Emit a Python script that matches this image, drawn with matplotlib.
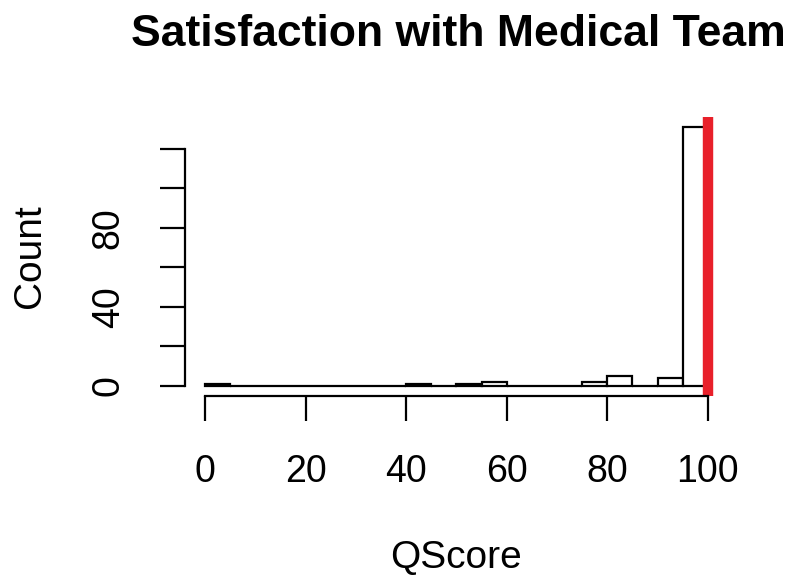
import numpy as np
import matplotlib
matplotlib.use("Agg")
import matplotlib.pyplot as plt

# histogram of QScore, bins of width 5 from 0 to 100
bin_left = [0, 5, 10, 15, 20, 25, 30, 35, 40, 45, 50, 55, 60, 65, 70, 75, 80, 85, 90, 95]
counts = [1, 0, 0, 0, 0, 0, 0, 0, 1, 0, 1, 2, 0, 0, 0, 2, 5, 0, 4, 131]
bin_width = 5
ref_score = 100

x_ticks = [0, 20, 40, 60, 80, 100]
y_ticks = [0, 20, 40, 60, 80, 100, 120]
y_tick_labels = ['0', '', '40', '', '80', '', '']

plt.rcParams['font.family'] = ['Liberation Sans', 'DejaVu Sans']

fig = plt.figure(figsize=(8, 5.81), dpi=100)
ax = fig.add_axes([0.23125, 0.3184, 0.67875, 0.4802])

ax.bar(bin_left, counts, width=bin_width, align='edge',
       color='white', edgecolor='black', linewidth=1.6)
ax.axvline(ref_score, color='#E8202A', linewidth=7.5)

# R-style limits: 4% padding around data range
ymax = max(counts)
ax.set_xlim(-4, 104)
ax.set_ylim(-0.04 * ymax, 1.04 * ymax)

for side in ['top', 'right']:
    ax.spines[side].set_visible(False)
ax.spines['left'].set_bounds(0, 120)
ax.spines['bottom'].set_bounds(0, 100)
for side in ['left', 'bottom']:
    ax.spines[side].set_linewidth(1.6)

ax.set_xticks(x_ticks)
ax.set_xticklabels([str(v) for v in x_ticks])
ax.set_yticks(y_ticks)
ax.set_yticklabels(y_tick_labels)
ax.tick_params(axis='both', direction='out', length=18, width=1.6,
               pad=24, labelsize=27)
plt.setp(ax.get_yticklabels(), rotation=90, va='center')

fig.text(458 / 800, 1 - 35 / 581, 'Satisfaction with Medical Team',
         ha='center', va='center', fontsize=32, fontweight='bold')
fig.text(456 / 800, 1 - 558 / 581, 'QScore', ha='center', va='center', fontsize=28)
fig.text(30 / 800, 1 - 256 / 581, 'Count', ha='center', va='center',
         rotation=90, fontsize=28)

fig.savefig('out.png', dpi=100)
